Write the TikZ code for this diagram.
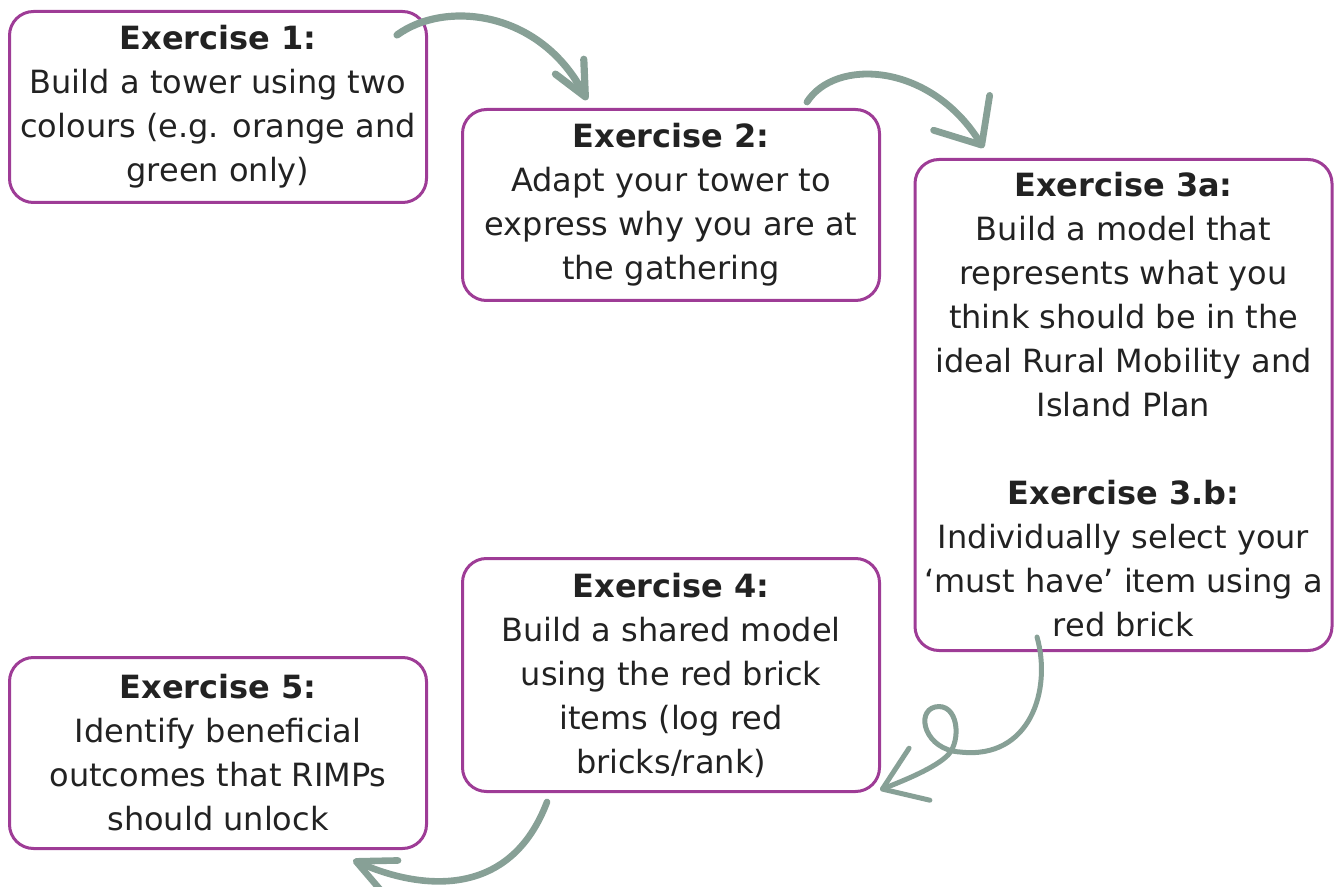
\documentclass[tikz,border=0pt]{standalone}
\usepackage{fontspec}
\setmainfont{DejaVu Sans}
\usepackage{xcolor}
\usepackage{tikz}
\usetikzlibrary{arrows.meta}
\definecolor{boxpurple}{RGB}{158, 60, 150}
\definecolor{arrowgrey}{RGB}{135, 160, 150}
\definecolor{textgrey}{RGB}{34, 34, 34}
\tikzset{
  exbox/.style={draw=boxpurple, line width=1.5pt, rounded corners=12pt, align=center,
    text=textgrey, inner sep=0pt, minimum width=208.5pt, minimum height=95.5pt,
    font=\fontsize{16}{22}\selectfont},
  flow/.style={draw=arrowgrey, line width=3.6pt, line cap=round, line join=round}
}

\begin{document}
\begin{tikzpicture}[x=0.5pt, y=-0.5pt]
    \clip (0,0) rectangle (1338,887);
    \node[exbox] (ex1) at (218,107) {\textbf{Exercise 1:}\\Build a tower using two\\colours (e.g. orange and\\green only)};
    \node[exbox] (ex2) at (671,205) {\textbf{Exercise 2:}\\Adapt your tower to\\express why you are at\\the gathering};
    \node[exbox, minimum height=245.5pt] (ex3) at (1123.5,405) {\textbf{Exercise 3a:}\\Build a model that\\represents what you\\think should be in the\\ideal Rural Mobility and\\Island Plan\\[22pt]\textbf{Exercise 3.b:}\\Individually select your\\‘must have’ item using a\\red brick};
    \node[exbox, minimum height=116.5pt] (ex4) at (671,675) {\textbf{Exercise 4:}\\Build a shared model\\using the red brick\\items (log red\\bricks/rank)};
    \node[exbox] (ex5) at (218,753) {\textbf{Exercise 5:}\\Identify beneficial\\outcomes that RIMPs\\should unlock};

    \draw[flow, -{Straight Barb[length=17pt, width=16pt, round]}]
        ([shift={(-31,25)}]ex1.north east) .. controls (445,0) and (540,10) .. ([shift={(-84,-8)}]ex2.north);
    \draw[flow, line width=3.4pt, -{Straight Barb[length=19pt, width=33pt, round]}]
        ([shift={(-74,-6)}]ex2.north east) .. controls (835,58) and (930,62) .. ([shift={(70,-10)}]ex3.north west);
    \draw[flow, line width=2.5pt, -{Straight Barb[length=20pt, width=28pt, round]}]
        ([shift={(-86.5,-15)}]ex3.south) .. controls (1052,690) and (1030,760) .. (960,752)
        .. controls (925,750) and (915,712) .. (935,707)
        .. controls (958,702) and (962,740) .. (948,755)
        .. controls (935,768) and (905,780) .. ([shift={(-1,-3)}]ex4.south east);
    \draw[flow, line width=3.3pt, -{Straight Barb[length=19pt, width=18pt, round]}]
        ([shift={(-124,9)}]ex4.south) .. controls (510,900) and (420,890) .. ([shift={(-75,10)}]ex5.south east);
\end{tikzpicture}
\end{document}
